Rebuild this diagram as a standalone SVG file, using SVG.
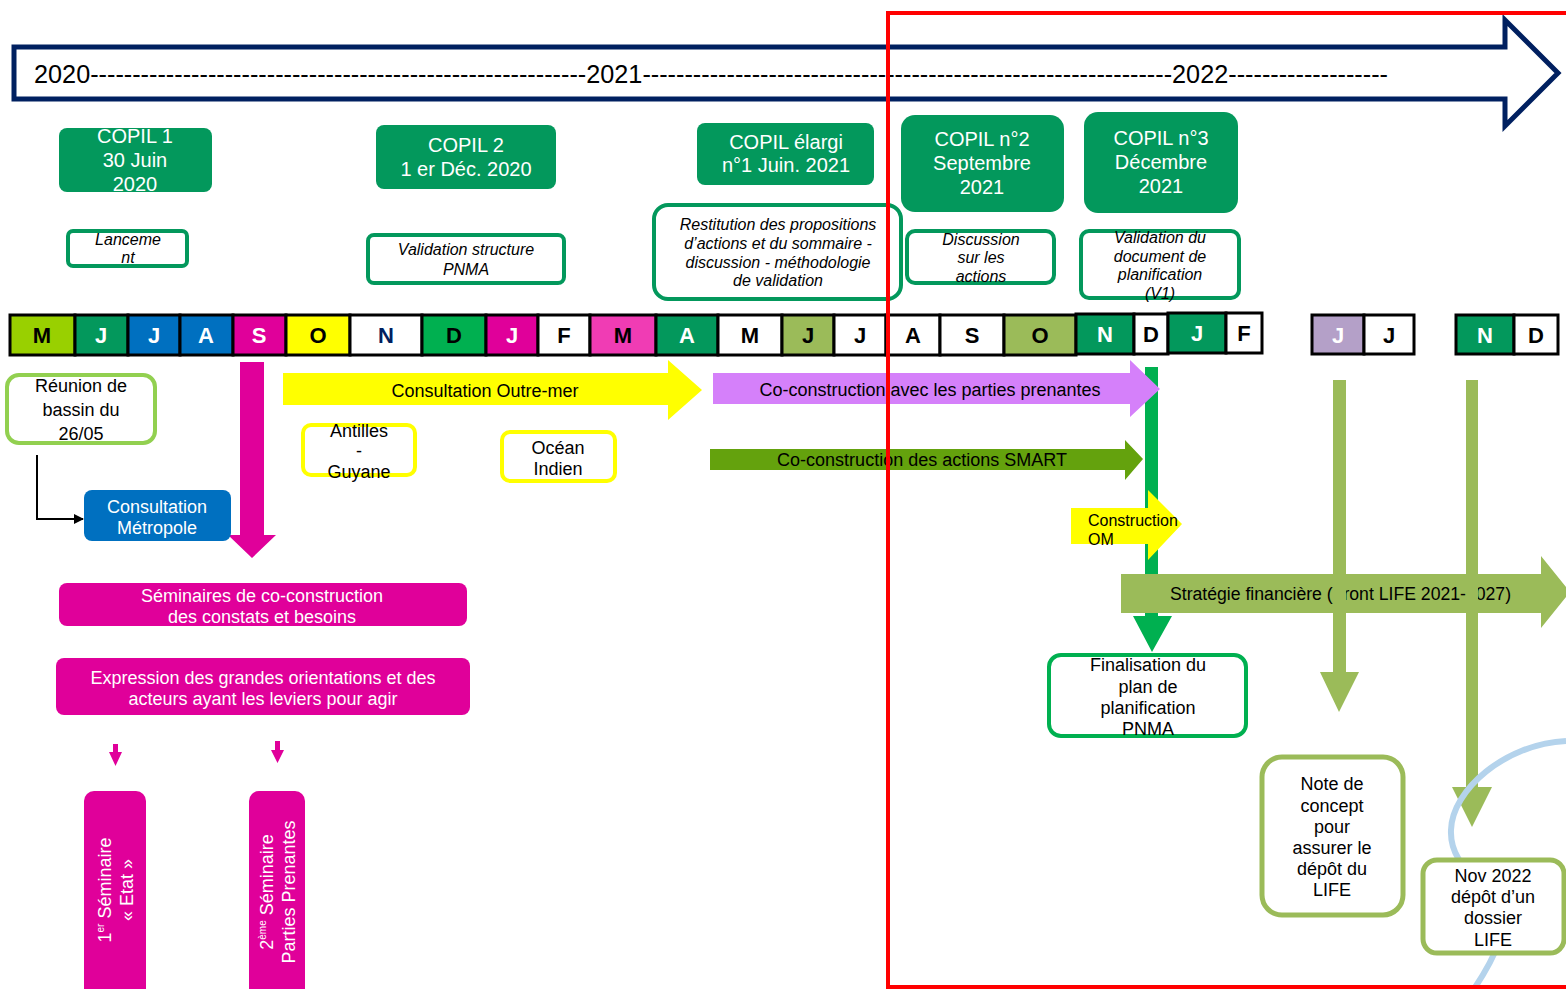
<svg xmlns="http://www.w3.org/2000/svg" width="1566" height="989" viewBox="0 0 1566 989">
<style>
text{font-family:"Liberation Sans",Arial,sans-serif}
.copil{fill:#03985C}
.ct{fill:#fff;font-size:20px;text-anchor:middle}
.desc{fill:#fff;stroke:#03985C;stroke-width:4}
.dt{fill:#000;font-size:16px;font-style:italic;text-anchor:middle}
.mc{stroke:#000;stroke-width:3}
.mt{font-size:22px;font-weight:bold;text-anchor:middle}
.bt{font-size:18px;text-anchor:middle;fill:#000}
.wt{font-size:18px;text-anchor:middle;fill:#fff}
.mag{fill:#E0009A}
.olive{fill:#9BBB59}
</style>
<defs>
<marker id="ah" markerWidth="10" markerHeight="10" refX="9" refY="5" orient="auto" markerUnits="userSpaceOnUse"><path d="M0,0 L10,5 L0,10 Z" fill="#000"/></marker>
</defs>
<rect width="1566" height="989" fill="#fff"/>

<g id="timeline">
<path d="M14,47 H1505 V20 L1558,73 L1505,126 V99 H14 Z" fill="#fff" stroke="#002060" stroke-width="5"/>
<text x="34" y="83" font-size="25" textLength="1354" lengthAdjust="spacingAndGlyphs">2020-----------------------------------------------------------2021---------------------------------------------------------------2022-------------------</text>
</g>

<g id="copil1"><rect class="copil" x="59" y="128" width="153" height="64" rx="8"/><text class="ct" x="135" y="143">COPIL 1</text><text class="ct" x="135" y="167">30 Juin</text><text class="ct" x="135" y="191">2020</text></g>
<g id="copil2"><rect class="copil" x="376" y="125" width="180" height="64" rx="8"/><text class="ct" x="466" y="152">COPIL 2</text><text class="ct" x="466" y="176">1 er Déc. 2020</text></g>
<g id="copil-elargi"><rect class="copil" x="697" y="123" width="177" height="62" rx="8"/><text class="ct" x="786" y="149">COPIL élargi</text><text class="ct" x="786" y="172">n°1 Juin. 2021</text></g>
<g id="copil-n2"><rect class="copil" x="901" y="115" width="163" height="97" rx="14"/><text class="ct" x="982" y="146">COPIL n°2</text><text class="ct" x="982" y="170">Septembre</text><text class="ct" x="982" y="194">2021</text></g>
<g id="copil-n3"><rect class="copil" x="1084" y="112" width="154" height="101" rx="14"/><text class="ct" x="1161" y="145">COPIL  n°3</text><text class="ct" x="1161" y="169">Décembre</text><text class="ct" x="1161" y="193">2021</text></g>

<g id="desc-lancement"><rect class="desc" x="68" y="231" width="119" height="35" rx="5"/><text class="dt" x="128" y="245">Lanceme</text><text class="dt" x="128" y="263">nt</text></g>
<g id="desc-validation"><rect class="desc" x="368" y="235" width="196" height="48" rx="6"/><text class="dt" x="466" y="255">Validation structure</text><text class="dt" x="466" y="275">PNMA</text></g>
<g id="desc-restitution"><rect class="desc" x="654" y="205" width="247" height="94" rx="14"/><text class="dt" x="778" y="230">Restitution des propositions</text><text class="dt" x="778" y="249">d’actions  et du sommaire -</text><text class="dt" x="778" y="268">discussion - méthodologie</text><text class="dt" x="778" y="286">de validation</text></g>
<g id="desc-discussion"><rect class="desc" x="907" y="231" width="147" height="52" rx="8"/><text class="dt" x="981" y="245">Discussion</text><text class="dt" x="981" y="263">sur les</text><text class="dt" x="981" y="282">actions</text></g>
<g id="desc-validation-doc"><rect class="desc" x="1081" y="231" width="158" height="67" rx="8"/><text class="dt" x="1160" y="243">Validation du</text><text class="dt" x="1160" y="262">document de</text><text class="dt" x="1160" y="280">planification</text><text class="dt" x="1160" y="299">(V1)</text></g>

<g id="months">
<rect class="mc" x="10" y="315" width="65" height="40" fill="#99D000"/><text class="mt" x="42" y="343" fill="#000">M</text>
<rect class="mc" x="75" y="315" width="53" height="40" fill="#03985C"/><text class="mt" x="101" y="343" fill="#fff">J</text>
<rect class="mc" x="128" y="315" width="52" height="40" fill="#0070C0"/><text class="mt" x="154" y="343" fill="#fff">J</text>
<rect class="mc" x="180" y="315" width="53" height="40" fill="#0070C0"/><text class="mt" x="206" y="343" fill="#fff">A</text>
<rect class="mc" x="233" y="315" width="53" height="40" fill="#E0009A"/><text class="mt" x="259" y="343" fill="#fff">S</text>
<rect class="mc" x="286" y="315" width="64" height="40" fill="#FFFF00"/><text class="mt" x="318" y="343" fill="#000">O</text>
<rect class="mc" x="350" y="315" width="72" height="40" fill="#fff"/><text class="mt" x="386" y="343" fill="#002060">N</text>
<rect class="mc" x="422" y="315" width="64" height="40" fill="#00B050"/><text class="mt" x="454" y="343" fill="#000">D</text>
<rect class="mc" x="486" y="315" width="52" height="40" fill="#E0009A"/><text class="mt" x="512" y="343" fill="#fff">J</text>
<rect class="mc" x="538" y="315" width="52" height="40" fill="#fff"/><text class="mt" x="564" y="343" fill="#000">F</text>
<rect class="mc" x="590" y="315" width="66" height="40" fill="#F03CB4"/><text class="mt" x="623" y="343" fill="#000">M</text>
<rect class="mc" x="656" y="315" width="62" height="40" fill="#03985C"/><text class="mt" x="687" y="343" fill="#fff">A</text>
<rect class="mc" x="718" y="315" width="64" height="40" fill="#fff"/><text class="mt" x="750" y="343" fill="#000">M</text>
<rect class="mc" x="782" y="315" width="52" height="40" fill="#9BBB59"/><text class="mt" x="808" y="343" fill="#000">J</text>
<rect class="mc" x="834" y="315" width="52" height="40" fill="#fff"/><text class="mt" x="860" y="343" fill="#000">J</text>
<rect class="mc" x="886" y="315" width="54" height="40" fill="#fff"/><text class="mt" x="913" y="343" fill="#000">A</text>
<rect class="mc" x="940" y="315" width="64" height="40" fill="#fff"/><text class="mt" x="972" y="343" fill="#000">S</text>
<rect class="mc" x="1004" y="315" width="72" height="40" fill="#9BBB59"/><text class="mt" x="1040" y="343" fill="#000">O</text>
<rect class="mc" x="1076" y="314" width="58" height="40" fill="#03985C"/><text class="mt" x="1105" y="342" fill="#fff">N</text>
<rect class="mc" x="1134" y="314" width="34" height="40" fill="#fff"/><text class="mt" x="1151" y="342" fill="#000">D</text>
<rect class="mc" x="1168" y="313" width="58" height="40" fill="#03985C"/><text class="mt" x="1197" y="341" fill="#fff">J</text>
<rect class="mc" x="1226" y="313" width="36" height="40" fill="#fff"/><text class="mt" x="1244" y="341" fill="#000">F</text>
<rect class="mc" x="1312" y="315" width="52" height="39" fill="#B4A0C8"/><text class="mt" x="1338" y="343" fill="#fff">J</text>
<rect class="mc" x="1364" y="315" width="50" height="39" fill="#fff"/><text class="mt" x="1389" y="343" fill="#000">J</text>
<rect class="mc" x="1456" y="315" width="58" height="39" fill="#03985C"/><text class="mt" x="1485" y="343" fill="#fff">N</text>
<rect class="mc" x="1514" y="315" width="44" height="39" fill="#fff"/><text class="mt" x="1536" y="343" fill="#000">D</text>
</g>

<g id="connectors">
<path d="M37,455 V519 H83" fill="none" stroke="#000" stroke-width="2" marker-end="url(#ah)"/>
<path class="mag" d="M240,362 H264 V535 H276 L252,558 L228,535 H240 Z"/>
<path class="mag" d="M113,744 H118 V752 H122 L115.5,766 L109,752 H113 Z"/>
<path class="mag" d="M275,741 H280 V750 H284 L277.5,763 L271,750 H275 Z"/>
<path d="M1145,367 H1158 V616 H1172 L1152,652 L1133,616 H1145 Z" fill="#00B050"/>
</g>

<g id="reunion"><rect x="7" y="375" width="148" height="68" rx="12" fill="#fff" stroke="#92D050" stroke-width="4"/><text class="bt" x="81" y="392" font-size="20">Réunion de</text><text class="bt" x="81" y="416" font-size="20">bassin du</text><text class="bt" x="81" y="440" font-size="20">26/05</text></g>
<g id="consultation-metropole"><rect x="84" y="490" width="147" height="51" rx="8" fill="#0070C0"/><text class="wt" x="157" y="513">Consultation</text><text class="wt" x="157" y="534">Métropole</text></g>

<g id="consultation-outremer"><path d="M283,373 H668 V360 L702,390 L668,420 V405 H283 Z" fill="#FFFF00"/><text class="bt" x="485" y="397" font-size="21">Consultation Outre-mer</text></g>
<g id="antilles"><rect x="303" y="425" width="112" height="50" rx="8" fill="#fff" stroke="#FFFF00" stroke-width="4"/><text class="bt" x="359" y="437">Antilles</text><text class="bt" x="359" y="457">-</text><text class="bt" x="359" y="478">Guyane</text></g>
<g id="ocean-indien"><rect x="502" y="432" width="113" height="49" rx="8" fill="#fff" stroke="#FFFF00" stroke-width="4"/><text class="bt" x="558" y="454">Océan</text><text class="bt" x="558" y="475">Indien</text></g>

<g id="coconstruction-parties"><path d="M713,373 H1130 V360 L1160,389 L1130,417 V404 H713 Z" fill="#D580FA"/><text class="bt" x="930" y="396">Co-construction avec les parties prenantes</text></g>
<g id="coconstruction-smart"><path d="M710,449 H1125 V440 L1143,459 L1125,480 V470 H710 Z" fill="#64A20D"/><text class="bt" x="922" y="466">Co-construction des actions SMART</text></g>
<g id="construction-om"><path d="M1071,508 H1148 V490 L1182,524 L1148,560 V544 H1071 Z" fill="#FFFF00"/><text x="1088" y="526" font-size="16" fill="#000">Construction</text><text x="1088" y="545" font-size="16" fill="#000">OM</text></g>
<g id="strategie"><path class="olive" d="M1121,574 H1541 V556 L1570,592 L1541,628 V613 H1121 Z"/><text x="1170" y="600" font-size="18" fill="#000" textLength="341" lengthAdjust="spacingAndGlyphs">Stratégie financière (Front LIFE 2021-2027)</text></g>

<g id="olive-arrows">
<path class="olive" d="M1333,380 H1346 V672 H1359 L1339,712 L1320,672 H1333 Z"/>
<path class="olive" d="M1466,380 H1478 V787 H1492 L1472,827 L1452,787 H1466 Z"/>
</g>

<path d="M1566,741 C1505,744 1452,790 1451,830 C1450,852 1462,866 1480,885 L1500,940 Q1492,962 1474,989" fill="none" stroke="#B4D3EC" stroke-width="6"/>

<g id="finalisation"><rect x="1049" y="655" width="197" height="81" rx="12" fill="#fff" stroke="#00B050" stroke-width="4"/><text class="bt" x="1148" y="671">Finalisation du</text><text class="bt" x="1148" y="693">plan de</text><text class="bt" x="1148" y="714">planification</text><text class="bt" x="1148" y="735">PNMA</text></g>
<g id="note-concept"><rect x="1262" y="757" width="141" height="158" rx="20" fill="#fff" stroke="#9BBB59" stroke-width="5"/><text class="bt" x="1332" y="790">Note de</text><text class="bt" x="1332" y="812">concept</text><text class="bt" x="1332" y="833">pour</text><text class="bt" x="1332" y="854">assurer le</text><text class="bt" x="1332" y="875">dépôt du</text><text class="bt" x="1332" y="896">LIFE</text></g>
<g id="nov2022"><rect x="1423" y="860" width="141" height="93" rx="14" fill="#fff" stroke="#9BBB59" stroke-width="5"/><text class="bt" x="1493" y="882">Nov 2022</text><text class="bt" x="1493" y="903">dépôt d’un</text><text class="bt" x="1493" y="924">dossier</text><text class="bt" x="1493" y="946">LIFE</text></g>

<g id="seminaires"><rect class="mag" x="59" y="583" width="408" height="43" rx="8"/><text class="wt" x="262" y="602">Séminaires de co-construction</text><text class="wt" x="262" y="623">des constats et besoins</text></g>
<g id="expression"><rect class="mag" x="56" y="658" width="414" height="57" rx="8"/><text class="wt" x="263" y="684">Expression des grandes orientations et des</text><text class="wt" x="263" y="705">acteurs ayant les leviers pour agir</text></g>
<g id="seminaire1"><rect class="mag" x="84" y="791" width="62" height="210" rx="10"/><text class="wt" transform="translate(111,890) rotate(-90)">1<tspan font-size="10" dy="-7">er</tspan><tspan dy="7"> Séminaire</tspan></text><text class="wt" transform="translate(133,890) rotate(-90)">« Etat »</text></g>
<g id="seminaire2"><rect class="mag" x="249" y="791" width="56" height="210" rx="10"/><text class="wt" transform="translate(273,892) rotate(-90)">2<tspan font-size="10" dy="-7">ème</tspan><tspan dy="7"> Séminaire</tspan></text><text class="wt" transform="translate(295,892) rotate(-90)">Parties Prenantes</text></g>

<path id="red-frame" d="M1570,13 H888 V987 H1570" fill="none" stroke="#FF0000" stroke-width="4"/>
</svg>
